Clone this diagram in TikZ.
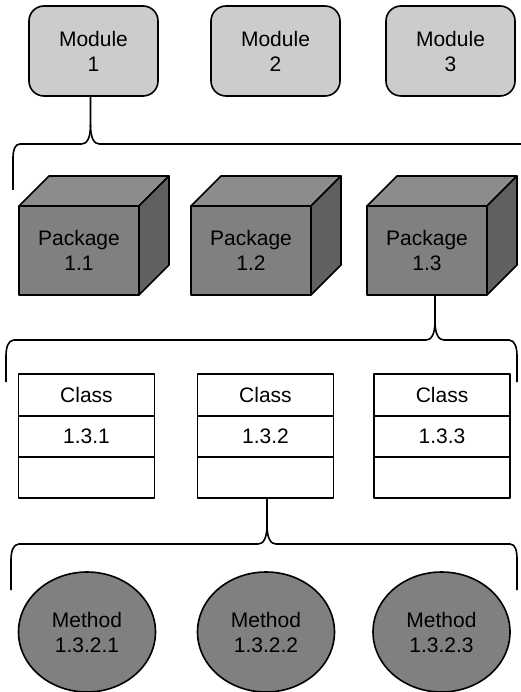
\documentclass[tikz,border=0pt]{standalone}
\usepackage{fontspec}
\setmainfont{Liberation Sans}
\usetikzlibrary{positioning}
\usetikzlibrary{shapes.geometric}

\definecolor{modfill}{HTML}{CCCCCC}
\definecolor{pkgfront}{HTML}{808080}
\definecolor{pkgtop}{HTML}{8C8C8C}
\definecolor{pkgside}{HTML}{606060}

\begin{document}
\begin{tikzpicture}[x=1pt,y=-1pt,inner sep=0pt,outer sep=0pt,line width=1.6pt,line join=round,
font=\fontsize{21}{25}\selectfont,
modblock/.style={draw,rectangle,rounded corners=15pt,fill=modfill,minimum width=129pt,minimum height=90pt,align=center},
pkgblock/.style={draw,rectangle,fill=pkgfront,minimum width=120pt,minimum height=89pt,align=center},
clsrow/.style={draw,rectangle,fill=white,minimum width=136pt,minimum height=41pt},
methblock/.style={draw,ellipse,fill=pkgfront,minimum width=137pt,minimum height=120pt,align=center}]

\useasboundingbox (0,0) rectangle (520,692);

\draw (93.5,51) node[modblock] (mod1) {Module\\1};
\draw (275.5,51) node[modblock] (mod2) {Module\\2};
\draw (450.5,51) node[modblock] (mod3) {Module\\3};

% packages as cubes
\foreach \x/\n in {79/1,251/2,427/3} {
  \draw (\x,250.5) node[pkgblock] (pkg\n) {Package\\1.\n};
  \draw[fill=pkgtop] (pkg\n.north west) -- ++(30,-30) -- ++(120,0) -- (pkg\n.north east) -- cycle;
  \draw[fill=pkgside] (pkg\n.north east) -- ++(30,-30) -- ++(0,89) -- (pkg\n.south east) -- cycle;
}

\foreach \x/\n in {86.5/1,265.5/2,442/3} {
  \draw (\x,395) node[clsrow,minimum height=42pt] (clsA\n) {Class};
  \node[clsrow,below=0pt of clsA\n] (clsB\n) {1.3.\n};
  \node[clsrow,below=0pt of clsB\n] (clsC\n) {};
}

\foreach \x/\n in {87/1,266/2,441.5/3}
  \draw (\x,632) node[methblock] (meth\n) {Method\\1.3.2.\n};

% braces
\draw ([xshift=-3pt]mod1.south) -- ++(0,29) .. controls +(0,14) and +(5,0) .. ++(-9,19) -- (20,144) .. controls +(-5,0) and +(0,-8) .. (13,158) -- (13,190);
\draw ([xshift=-3pt]mod1.south) ++(0,29) .. controls +(0,14) and +(-5,0) .. ++(9,19) -- (530,144);

\draw ([xshift=8pt]pkg3.south) -- ++(0,26) .. controls +(0,14) and +(5,0) .. ++(-9,19) -- (14,340) .. controls +(-6,0) and +(0,-8) .. (6,356) -- (6,382);
\draw ([xshift=8pt]pkg3.south) ++(0,26) .. controls +(0,14) and +(-5,0) .. ++(9,19) -- (509,340) .. controls +(6,0) and +(0,-8) .. (517,356) -- (517,382);

\draw ([xshift=1.5pt]clsC2.south) -- ++(0,27) .. controls +(0,14) and +(5,0) .. ++(-9,19) -- (19,544) .. controls +(-6,0) and +(0,-8) .. (11,560) -- (11,590);
\draw ([xshift=1.5pt]clsC2.south) ++(0,27) .. controls +(0,14) and +(-5,0) .. ++(9,19) -- (510,544) .. controls +(6,0) and +(0,-8) .. (517,560) -- (517,590);
\end{tikzpicture}
\end{document}
